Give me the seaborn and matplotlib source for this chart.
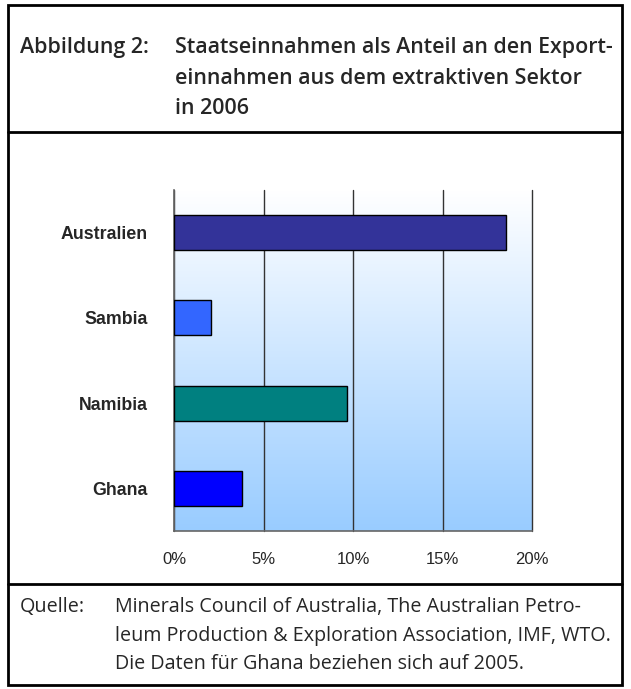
import numpy as np
import pandas as pd
import matplotlib
matplotlib.use("Agg")
import matplotlib.pyplot as plt
import seaborn as sns
from matplotlib.patches import Rectangle
from matplotlib.ticker import FixedLocator, PercentFormatter

# Data
countries = ["Australien", "Sambia", "Namibia", "Ghana"]
share = [18.55, 2.05, 9.65, 3.8]
bar_colors = ["#333399", "#3366FF", "#008080", "#0000FF"]
x_ticks = [0, 5, 10, 15, 20]

title_lead = "Abbildung 2:"
title_lines = ["Staatseinnahmen als Anteil an den Export-",
               "einnahmen aus dem extraktiven Sektor",
               "in 2006"]
source_lead = "Quelle:"
source_lines = ["Minerals Council of Australia, The Australian Petro-",
                "leum Production & Exploration Association, IMF, WTO.",
                "Die Daten für Ghana beziehen sich auf 2005."]

df = pd.DataFrame({"Land": countries, "Anteil": share})

sns.set_style("white")
plt.rcParams["font.family"] = ["Liberation Sans", "DejaVu Sans"]

W, H = 631, 689
fig = plt.figure(figsize=(W / 100, H / 100), dpi=100)

# axes placement in pixel coordinates
ax_l, ax_r, ax_t, ax_b = 174, 532, 190, 531
ax = fig.add_axes([ax_l / W, 1 - ax_b / H, (ax_r - ax_l) / W, (ax_b - ax_t) / H])

# gradient background
grad = np.linspace(0, 1, 256).reshape(-1, 1)
top = np.array([1.0, 1.0, 1.0])
bot = np.array([153, 204, 255]) / 255
img = top[None, None, :] * (1 - grad[:, :, None]) + bot[None, None, :] * grad[:, :, None]
ax.imshow(img, extent=[0, 1, 0, 1], transform=ax.transAxes, aspect="auto", zorder=0)

sns.barplot(data=df, x="Anteil", y="Land", hue="Land", palette=bar_colors,
            orient="h", width=0.41, edgecolor="black", linewidth=1.0,
            saturation=1, legend=False, ax=ax, zorder=3)

ax.set_xlim(0, 20)
ax.set_ylim(3.5, -0.5)
ax.set_xticks(x_ticks)
ax.xaxis.set_major_formatter(PercentFormatter(decimals=0))
ax.grid(axis="x", color="#333333", linewidth=1.0, zorder=1)
for gl in ax.get_xgridlines():
    gl.set_clip_on(False)
ax.set_axisbelow(True)
ax.set_xlabel("")
ax.set_ylabel("")

for s in ["top", "right"]:
    ax.spines[s].set_visible(False)
for s in ["left", "bottom"]:
    ax.spines[s].set_color("#666666")
    ax.spines[s].set_linewidth(1.2)

ax.tick_params(axis="x", length=5, width=1, color="#777777", pad=10, labelsize=12)
ax.tick_params(axis="y", which="major", length=0, pad=19, labelsize=12.8)
for lbl in ax.get_yticklabels():
    lbl.set_fontweight("bold")
ax.yaxis.set_minor_locator(FixedLocator([-0.5, 0.5, 1.5, 2.5, 3.5]))
ax.tick_params(axis="y", which="minor", length=5, width=1, color="#555555")

# frames
def px_rect(x0, y0, x1, y1):
    return Rectangle((x0 / W, 1 - y1 / H), (x1 - x0) / W, (y1 - y0) / H,
                     transform=fig.transFigure, fill=False, edgecolor="black",
                     linewidth=2.0)

fig.patches.append(px_rect(8, 5, 622, 685))
fig.lines.append(plt.Line2D([8 / W, 622 / W], [1 - 132 / H, 1 - 132 / H],
                            transform=fig.transFigure, color="black", linewidth=2.0))
fig.lines.append(plt.Line2D([8 / W, 622 / W], [1 - 584 / H, 1 - 584 / H],
                            transform=fig.transFigure, color="black", linewidth=2.0))

# title
tfont = dict(family=["Open Sans", "DejaVu Sans"], fontweight="semibold", fontsize=15.4,
             va="center", ha="left", transform=fig.transFigure)
fig.text(20 / W, 1 - 47 / H, title_lead, **tfont)
for i, line in enumerate(title_lines):
    fig.text(175 / W, 1 - (47 + i * 31) / H, line, **tfont)

# source
sfont = dict(family=["Open Sans", "DejaVu Sans"], fontsize=14.2,
             va="center", ha="left", transform=fig.transFigure)
fig.text(20 / W, 1 - 607 / H, source_lead, **sfont)
for i, line in enumerate(source_lines):
    fig.text(115 / W, 1 - (607 + i * 28.5) / H, line, **sfont)

fig.savefig("out.png", dpi=100)
